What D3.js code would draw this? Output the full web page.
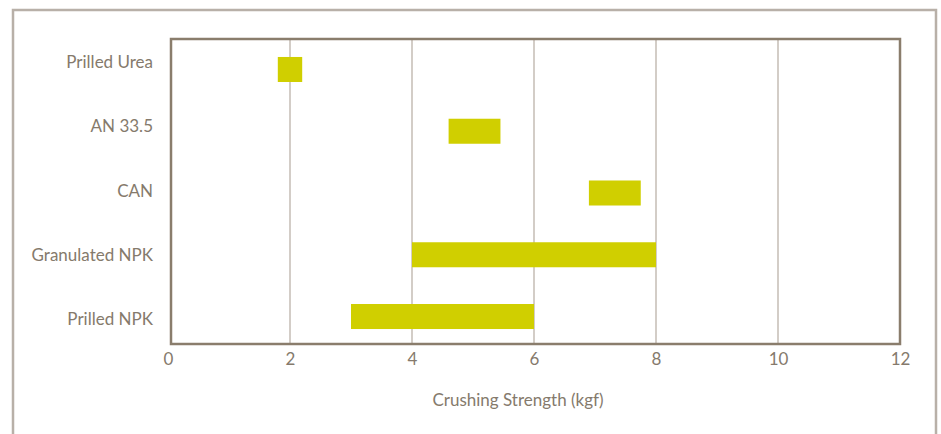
<!DOCTYPE html>
<html>
<head>
<meta charset="utf-8">
<script src="https://cdn.jsdelivr.net/npm/d3@7"></script>
<style>
  html, body { margin: 0; padding: 0; background: #fff; }
  svg { display: block; }
  text { font-family: "Lato", "Open Sans", sans-serif; fill: #857a6c; }
</style>
</head>
<body>
<svg id="chart" width="941" height="434"></svg>
<script>
const categories = ["Prilled Urea", "AN 33.5", "CAN", "Granulated NPK", "Prilled NPK"];
const minValues = [1.8, 4.6, 6.9, 4.0, 3.0];
const maxValues = [2.2, 5.45, 7.75, 8.0, 6.0];
const xTicks = [0, 2, 4, 6, 8, 10, 12];
const xTitle = "Crushing Strength (kgf)";

const svg = d3.select("#chart");

// outer frame
svg.append("path")
  .attr("d", "M13,440 L13,10 L936,10 L936,440")
  .attr("fill", "none")
  .attr("stroke", "#b8b0a8")
  .attr("stroke-width", 2.5);

const x = d3.scaleLinear().domain([0, 12]).range([168, 900]);
const yBar = d3.scaleBand().domain(categories).range([38.6, 347.4]).paddingInner(0.595).paddingOuter(0.2975);
const yLabel = d3.scalePoint().domain(categories).range([62, 319]);

const plotTop = 39, plotBottom = 344;

// gridlines
svg.append("g").selectAll("line")
  .data(xTicks.filter(d => d > 0 && d < 12))
  .join("line")
  .attr("x1", d => x(d)).attr("x2", d => x(d))
  .attr("y1", plotTop).attr("y2", plotBottom)
  .attr("stroke", "#c4bdb5")
  .attr("stroke-width", 1.5);

// bars
svg.append("g").selectAll("rect")
  .data(categories)
  .join("rect")
  .attr("x", (d, i) => x(minValues[i]))
  .attr("width", (d, i) => x(maxValues[i]) - x(minValues[i]))
  .attr("y", d => yBar(d))
  .attr("height", yBar.bandwidth())
  .attr("fill", "#d0cf00");

// plot frame
svg.append("rect")
  .attr("x", 171).attr("y", plotTop)
  .attr("width", x(12) - 171).attr("height", plotBottom - plotTop)
  .attr("fill", "none")
  .attr("stroke", "#8a7d6c")
  .attr("stroke-width", 2.5);

// x axis labels
const xAxis = d3.axisBottom(x).tickValues(xTicks).tickSize(0).tickPadding(0).tickFormat(d3.format("d"));
const gx = svg.append("g").attr("transform", `translate(0,${plotBottom})`).call(xAxis);
gx.select(".domain").remove();
gx.selectAll("text")
  .attr("dy", null)
  .attr("y", 21)
  .style("font-family", '"Lato", "Open Sans", sans-serif')
  .style("font-size", "17px")
  .attr("fill", "#857a6c");

// category labels
svg.append("g").selectAll("text")
  .data(categories)
  .join("text")
  .attr("x", 153)
  .attr("y", d => yLabel(d))
  .attr("dy", "0.36em")
  .attr("text-anchor", "end")
  .style("font-size", "17px")
  .text(d => d);

// axis title
svg.append("text")
  .attr("x", 518)
  .attr("y", 406)
  .attr("text-anchor", "middle")
  .style("font-size", "17px")
  .text(xTitle);
</script>
</body>
</html>
